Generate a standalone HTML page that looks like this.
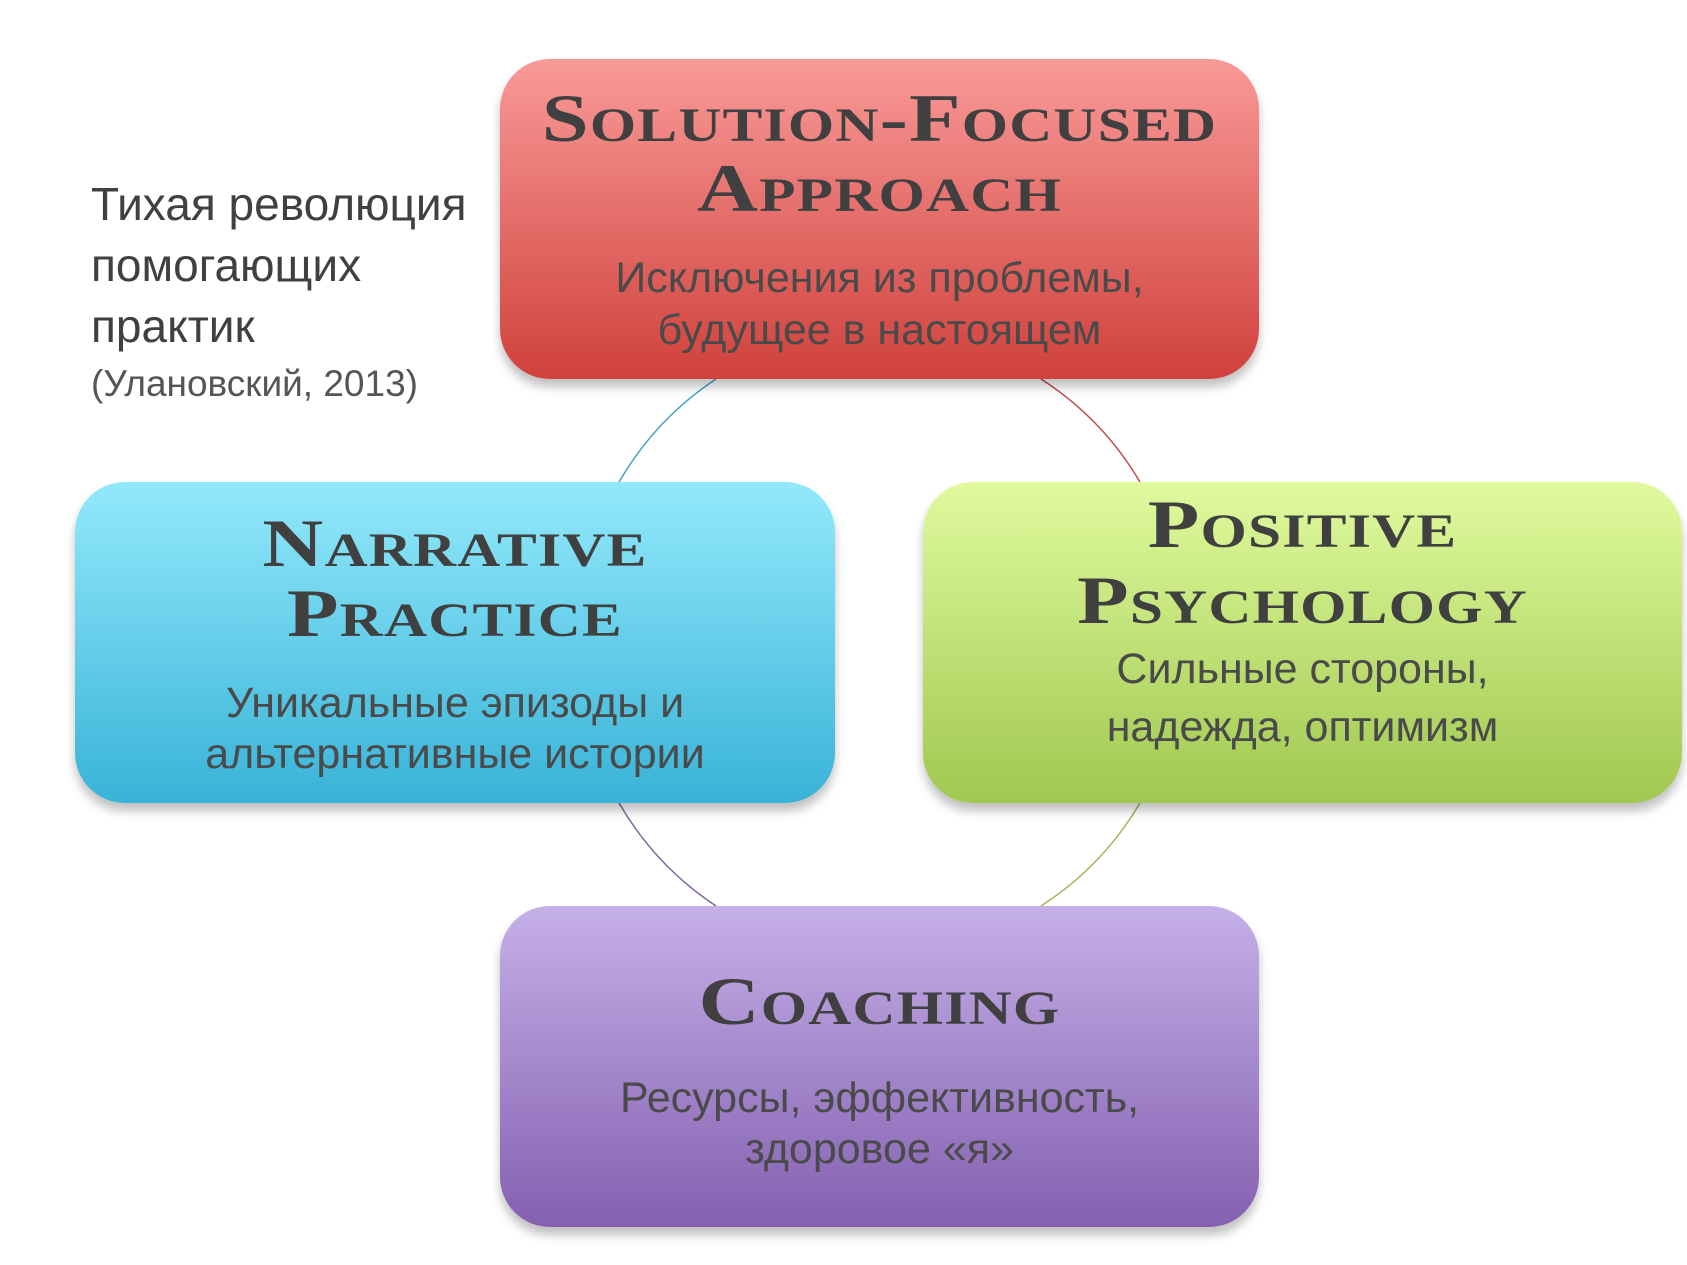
<!DOCTYPE html>
<html><head><meta charset="utf-8"><style>
body{margin:0;width:1687px;height:1265px;background:#fff;position:relative;overflow:hidden;font-family:"Liberation Sans","DejaVu Sans",sans-serif}
.box{position:absolute;border-radius:50px;box-shadow:0 8px 10px rgba(0,0,0,0.25)}
.l{position:absolute;left:0;width:100%;text-align:center;height:60px;line-height:60px;white-space:nowrap}
.t{font-family:"Liberation Serif","DejaVu Serif",serif;font-weight:bold;font-variant:small-caps;font-size:68px;color:#404040;letter-spacing:1px;transform:scaleX(1.24);transform-origin:center}
.b{font-size:43px;color:#4a4a4a;font-weight:300}
.s{position:absolute;left:91px;font-size:46px;color:#404040;height:60px;line-height:60px;white-space:nowrap}
</style></head><body>
<svg width="1687" height="1265" style="position:absolute;left:0;top:0">
<path d="M 716 379 A 310 310 0 0 0 619 482" fill="none" stroke="#4aa3c0" stroke-width="1.5"/>
<path d="M 1041 379 A 310 310 0 0 1 1140 482" fill="none" stroke="#c0504d" stroke-width="1.5"/>
<path d="M 1140 803 A 310 310 0 0 1 1041 906" fill="none" stroke="#9bbb59" stroke-width="1.5"/>
<path d="M 619 803 A 310 310 0 0 0 716 906" fill="none" stroke="#8064a2" stroke-width="1.5"/>
</svg>
<div class="s" style="top:174px">Тихая революция</div>
<div class="s" style="top:235px">помогающих</div>
<div class="s" style="top:296px">практик</div>
<div class="s" style="top:354px;font-size:37px;color:#555">(Улановский, 2013)</div>

<div class="box" style="left:500px;top:59px;width:759px;height:320px;background:linear-gradient(#f99a98,#d0413c)">
<div class="l t" style="top:29px">Solution-Focused</div>
<div class="l t" style="top:99px">Approach</div>
<div class="l b" style="top:189px">Исключения из проблемы,</div>
<div class="l b" style="top:241px">будущее в настоящем</div>
</div>
<div class="box" style="left:75px;top:482px;width:760px;height:321px;background:linear-gradient(#93e9fb,#38b3d8)">
<div class="l t" style="top:31px">Narrative</div>
<div class="l t" style="top:101px">Practice</div>
<div class="l b" style="top:191px">Уникальные эпизоды и</div>
<div class="l b" style="top:242px">альтернативные истории</div>
</div>
<div class="box" style="left:923px;top:482px;width:759px;height:321px;background:linear-gradient(#e0fa9e,#a0c850)">
<div class="l t" style="top:12px">Positive</div>
<div class="l t" style="top:88px">Psychology</div>
<div class="l b" style="top:157px">Сильные стороны,</div>
<div class="l b" style="top:215px">надежда, оптимизм</div>
</div>
<div class="box" style="left:500px;top:906px;width:759px;height:321px;background:linear-gradient(#c6b0e8,#8460b0)">
<div class="l t" style="top:65px">Coaching</div>
<div class="l b" style="top:162px">Ресурсы, эффективность,</div>
<div class="l b" style="top:213px">здоровое «я»</div>
</div>
</body></html>
